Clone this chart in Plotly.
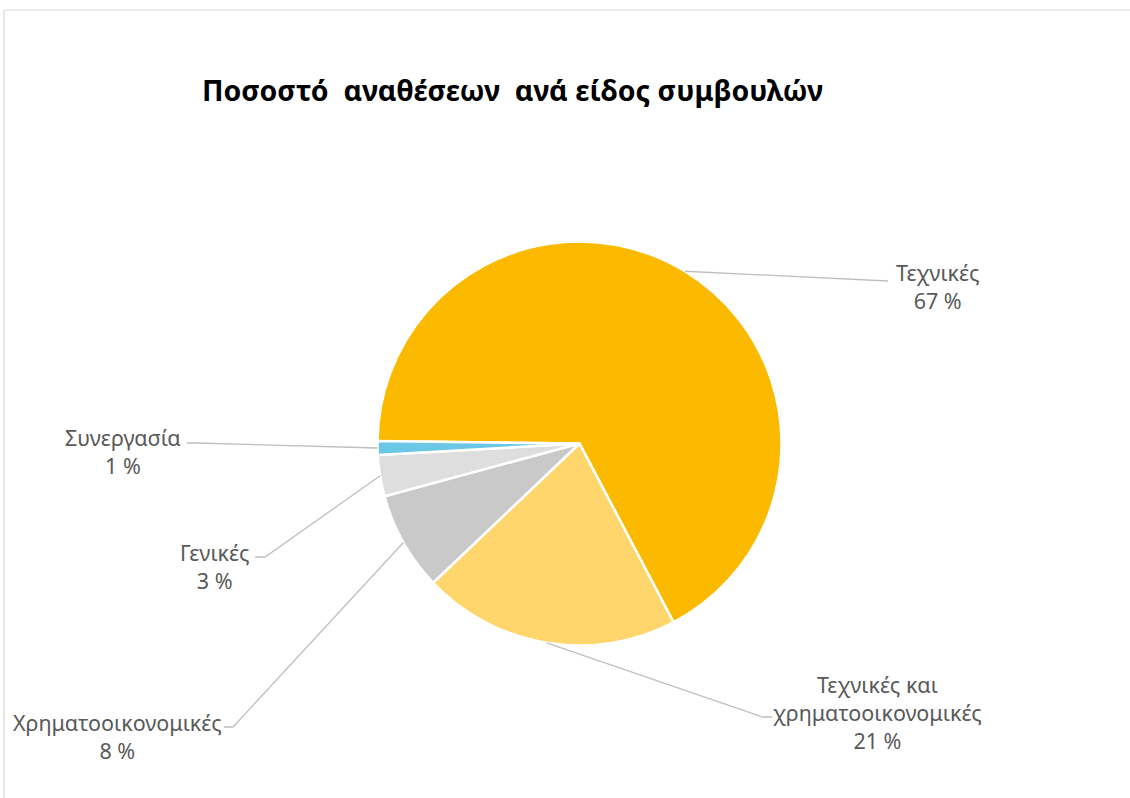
import math
import plotly.graph_objects as go

# ---- data ----
categories = ["Τεχνικές", "Τεχνικές και χρηματοοικονομικές", "Χρηματοοικονομικές", "Γενικές", "Συνεργασία"]
values = [67.1, 20.6, 7.9, 3.3, 1.1]
colors = ["#FBBA00", "#FFD66B", "#C9C9C9", "#DEDEDE", "#6BC7E6"]
title_text = "Ποσοστό  αναθέσεων  ανά είδος συμβουλών"

# ---- layout / style ----
W, H = 1130, 798
CX, CY, R = 579.5, 443.5, 202.0
ROTATION = 270.7
label_font = dict(family="Noto Sans", size=21.5, color="#595959")
wrapped = {"Τεχνικές και χρηματοοικονομικές": "Τεχνικές και<br>χρηματοοικονομικές"}
# per-slice: label center, leader elbow, leader end
label_pos = [(937, 286), (877, 712), (117, 736), (214, 566), (123, 451)]
elbow_pos = [(888, 281), (763, 717), (233, 727), (265, 557), (196, 443)]
end_pos = [(888, 281), (772, 717), (224, 727), (255, 557), (187, 443)]

fig = go.Figure()
fig.add_trace(go.Pie(
    labels=categories, values=values, sort=False, direction="clockwise",
    rotation=ROTATION, textinfo="none", hoverinfo="label+percent",
    marker=dict(colors=colors, line=dict(color="white", width=2.5)),
    domain=dict(x=[(CX - R) / W, (CX + R) / W], y=[(H - CY - R) / H, (H - CY + R) / H]),
    showlegend=False,
))

total = sum(values)
cum = 0.0
shapes = []
annotations = []
for i, (cat, v) in enumerate(zip(categories, values)):
    mid = math.radians(ROTATION + (cum + v / 2) / total * 360)
    cum += v
    ex, ey = CX + R * math.sin(mid), CY - R * math.cos(mid)
    bx, by = elbow_pos[i]
    tx, ty = end_pos[i]
    shapes.append(dict(type="path", xref="x", yref="y",
                       path=f"M{ex},{ey} L{bx},{by} L{tx},{ty}",
                       line=dict(color="#BFBFBF", width=1.3)))
    pct = int(v / total * 100 + 0.5)
    txt = wrapped.get(cat, cat) + f"<br>{pct} %"
    lx, ly = label_pos[i]
    annotations.append(dict(x=lx, y=ly, xref="x", yref="y", text=txt, showarrow=False,
                            font=label_font, align="center", xanchor="center", yanchor="middle"))

annotations.append(dict(x=512, y=90, xref="x", yref="y", text=f"<b>{title_text}</b>", showarrow=False,
                        font=dict(family="Noto Sans", size=28.5, color="#000000"),
                        xanchor="center", yanchor="middle"))

# chart frame (top and left border)
shapes.append(dict(type="line", xref="x", yref="y", x0=4, y0=10, x1=W, y1=10,
                   line=dict(color="#D9D9D9", width=1.2)))
shapes.append(dict(type="line", xref="x", yref="y", x0=4, y0=10, x1=4, y1=H,
                   line=dict(color="#D9D9D9", width=1.2)))

fig.update_layout(
    width=W, height=H, margin=dict(l=0, r=0, t=0, b=0),
    paper_bgcolor="white", plot_bgcolor="rgba(0,0,0,0)",
    xaxis=dict(range=[0, W], visible=False, fixedrange=True),
    yaxis=dict(range=[H, 0], visible=False, fixedrange=True),
    shapes=shapes, annotations=annotations,
)

fig.write_html("out.html", config={"displayModeBar": False},
               post_script="document.body.style.margin='0px';document.body.style.overflow='hidden';")
